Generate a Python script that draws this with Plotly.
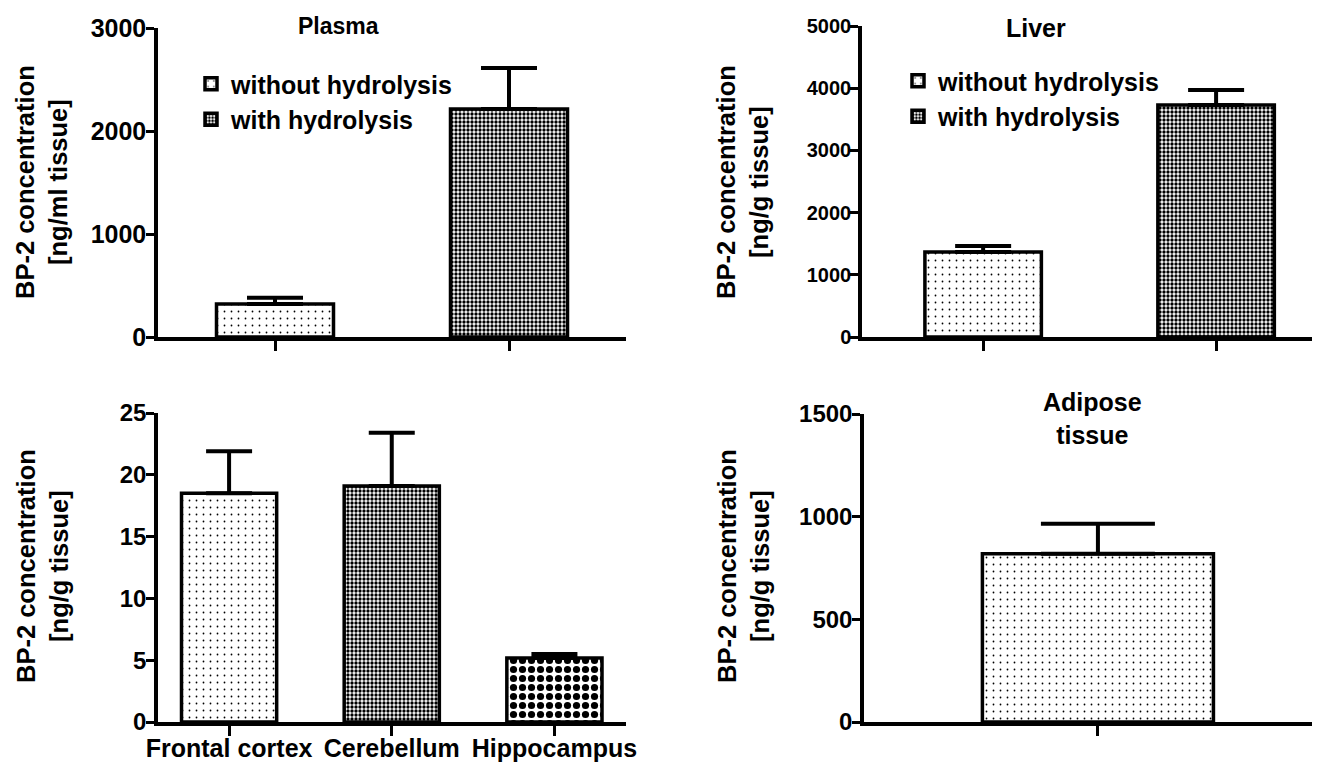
import plotly.graph_objects as go

W, H = 1320, 764

# ---------------- data ----------------
hydro_groups = ["without hydrolysis", "with hydrolysis"]
plasma_mean = [320, 2214]
plasma_sd = [60, 398]
liver_mean = [1366, 3730]
liver_sd = [97, 241]
brain_regions = ["Frontal cortex", "Cerebellum", "Hippocampus"]
brain_mean = [18.5, 19.1, 5.17]
brain_sd = [3.4, 4.3, 0.33]
adipose_label = ["Adipose tissue"]
adipose_mean = [819]
adipose_sd = [146]

plasma_ticks = [0, 1000, 2000, 3000]
liver_ticks = [0, 1000, 2000, 3000, 4000, 5000]
brain_ticks = [0, 5, 10, 15, 20, 25]
adipose_ticks = [0, 500, 1000, 1500]

FONT = "Arial, 'Liberation Sans', sans-serif"
OFF = 8  # page body margin


def px(xp):
    return (xp - OFF) / W


def py(yp):
    return 1 - (yp - OFF) / H


def bold(size):
    return dict(family=FONT, size=size, color="black", weight="bold")


dots = dict(shape=".", size=7, solidity=0.05, fgcolor="black", bgcolor="white")
checker = dict(shape=".", size=4, solidity=0.55, fgcolor="black", bgcolor="white")
line = dict(color="black", width=3.5)

fig = go.Figure()

# ---- Plasma ----
for i, (g, pat) in enumerate(zip(hydro_groups, [dots, checker])):
    fig.add_trace(go.Bar(
        x=[g], y=[plasma_mean[i]], width=0.5, xaxis="x", yaxis="y",
        marker=dict(color="white", line=line, pattern=pat),
        error_y=dict(type="data", symmetric=False, array=[plasma_sd[i]], arrayminus=[0],
                     color="black", thickness=4, width=28),
        name=g, legend="legend", showlegend=True))

# ---- Liver ----
for i, (g, pat) in enumerate(zip(hydro_groups, [dots, checker])):
    fig.add_trace(go.Bar(
        x=[g], y=[liver_mean[i]], width=0.5, xaxis="x2", yaxis="y2",
        marker=dict(color="white", line=line, pattern=pat),
        error_y=dict(type="data", symmetric=False, array=[liver_sd[i]], arrayminus=[0],
                     color="black", thickness=4, width=28),
        name=g, legend="legend2", showlegend=True))

# ---- Brain ----
fig.add_trace(go.Bar(
    x=brain_regions, y=brain_mean, width=0.585, xaxis="x3", yaxis="y3",
    marker=dict(color="white", line=line,
                pattern=dict(shape=[".", ".", "."], size=[7, 4, 9],
                             solidity=[0.05, 0.55, 0.5], fgcolor="black", bgcolor="white")),
    error_y=dict(type="data", symmetric=False, array=brain_sd, arrayminus=[0, 0, 0],
                 color="black", thickness=4, width=23),
    showlegend=False))

# ---- Adipose ----
fig.add_trace(go.Bar(
    x=adipose_label, y=adipose_mean, width=0.8, xaxis="x4", yaxis="y4",
    marker=dict(color="white", line=line, pattern=dots),
    error_y=dict(type="data", symmetric=False, array=adipose_sd, arrayminus=[0],
                 color="black", thickness=4, width=57),
    showlegend=False))

axis_common = dict(showline=True, linecolor="black", linewidth=3.5, showgrid=False,
                   zeroline=False, ticks="outside", tickcolor="black", tickwidth=3,
                   mirror=False, automargin=False)
yax = dict(axis_common, ticklen=8, ticklabelstandoff=-5)

fig.update_layout(
    template="none",
    width=W, height=H, margin=dict(l=0, r=0, t=0, b=0, pad=0, autoexpand=False),
    paper_bgcolor="white", plot_bgcolor="white", barmode="overlay",
    font=dict(family=FONT, color="black"),
    xaxis=dict(axis_common, domain=[px(158), px(626)], range=[-0.5, 1.5],
               showticklabels=False, ticklen=10, anchor="y"),
    yaxis=dict(yax, domain=[py(337), py(28)], range=[0, 3000],
               tickvals=plasma_ticks, tickfont=bold(25), anchor="x"),
    xaxis2=dict(axis_common, domain=[px(862), px(1320)], range=[-0.52, 1.446],
                showticklabels=False, ticklen=10, anchor="y2"),
    yaxis2=dict(yax, domain=[py(337), py(26)], range=[0, 5000],
                tickvals=liver_ticks, tickfont=bold(20), anchor="x2"),
    xaxis3=dict(axis_common, domain=[px(158), px(626)], range=[-0.437, 2.44],
                ticklen=10, ticklabelstandoff=-9, tickfont=bold(25), anchor="y3"),
    yaxis3=dict(yax, domain=[py(722), py(413)], range=[0, 25],
                tickvals=brain_ticks, tickfont=bold(24), anchor="x3"),
    xaxis4=dict(axis_common, domain=[px(864), px(1320)], range=[-0.81, 0.769],
                showticklabels=False, ticklen=10, anchor="y4"),
    yaxis4=dict(yax, domain=[py(722), py(414)], range=[0, 1500],
                tickvals=adipose_ticks, tickfont=bold(24), anchor="x4"),
    legend=dict(x=px(191), y=py(61), xanchor="left", yanchor="top",
                bgcolor="rgba(0,0,0,0)", tracegroupgap=0, font=bold(25)),
    legend2=dict(x=px(898), y=py(58), xanchor="left", yanchor="top",
                 bgcolor="rgba(0,0,0,0)", tracegroupgap=0, font=bold(25)),
)


def note(text, x, y, size, angle=0):
    return dict(text=text, x=px(x), y=py(y), xref="paper", yref="paper",
                showarrow=False, font=bold(size), textangle=angle,
                xanchor="center", yanchor="middle")


annotations = [
    note("Plasma", 339, 26, 23),
    note("Liver", 1036, 28, 25),
    note("Adipose<br>tissue", 1092, 418, 25),
    note("BP-2 concentration<br>[ng/ml tissue]", 42, 182, 25.5, -90),
    note("BP-2 concentration<br>[ng/g tissue]", 743, 182, 25.5, -90),
    note("BP-2 concentration<br>[ng/g tissue]", 42, 566, 25.5, -90),
    note("BP-2 concentration<br>[ng/g tissue]", 743, 566, 25.5, -90),
]
fig.update_layout(annotations=annotations)

fig.write_html("out.html")
